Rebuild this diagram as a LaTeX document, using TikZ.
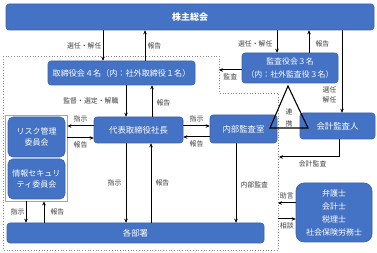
\documentclass[tikz,border=0pt]{standalone}
\usepackage{fontspec}
\setmainfont{Noto Sans CJK JP}
\usetikzlibrary{arrows.meta}
\definecolor{boxblue}{HTML}{4472C4}
\definecolor{boxedge}{HTML}{3A62AC}
\definecolor{lblgray}{HTML}{404040}
\definecolor{dotgray}{HTML}{8C8C8C}
\definecolor{grpgray}{HTML}{A6A6A6}
\begin{document}
\begin{tikzpicture}[x=1pt,y=-1pt,
  box/.style={draw=boxedge, line width=.6pt, fill=boxblue, rounded corners=3pt, text=white, align=center, inner sep=0pt, font=\fontsize{8.4}{13}\selectfont},
  lbl/.style={text=lblgray, font=\fontsize{6.9}{10}\selectfont, inner sep=1pt, align=center},
  arr/.style={draw=black, line width=1pt, -{Stealth[length=4pt,width=3.6pt]}},
  grpbox/.style={draw=grpgray, line width=.8pt, fill=white, inner sep=0pt},
  boundary/.style={draw=dotgray, dotted, line width=.7pt},
  tri/.style={draw=black, line width=1.1pt, line join=miter}
]
\useasboundingbox (0,0) rectangle (377,253);
\fill[white] (0,0) rectangle (377,253);

% dotted boundary of the company organisation
\draw[boundary] (3,56) -- (219,56) -- (219,93) -- (278,93) -- (278,250) -- (3,250) -- cycle;

% group of committees
\node[grpbox, minimum width=62pt, minimum height=86pt] (grp) at (36,158) {};

% boxes
\node[box, minimum width=368pt, minimum height=26pt, font=\fontsize{9}{13}\selectfont\bfseries] (sh) at (190,17) {株主総会};
\node[box, minimum width=147pt, minimum height=24pt, font=\fontsize{8.1}{13}\selectfont] (tor) at (121.5,73) {取締役会４名（内：社外取締役１名）};
\node[box, minimum width=96pt, minimum height=30pt, font=\fontsize{7.9}{13}\selectfont] (kan) at (290,68) {監査役会３名\\（内：社外監査役３名）};
\node[box, minimum width=89pt, minimum height=26pt] (pres) at (138.5,130) {代表取締役社長};
\node[box, minimum width=57pt, minimum height=40pt, rounded corners=5pt, font=\fontsize{8}{11.5}\selectfont] (risk) at (36.5,137) {リスク管理\\委員会};
\node[box, minimum width=57pt, minimum height=40pt, rounded corners=5pt, font=\fontsize{8}{11.5}\selectfont] (info) at (36.5,179) {情報セキュリ\\ティ委員会};
\node[box, minimum width=67pt, minimum height=28pt] (naibu) at (243.5,129) {内部監査室};
\node[box, minimum width=75pt, minimum height=26pt] (kaikei) at (337.5,126) {会計監査人};
\node[box, minimum width=257pt, minimum height=20pt] (kakubu) at (135.5,233) {各部署};
\node[box, minimum width=76pt, minimum height=59pt, rounded corners=8pt, font=\fontsize{8}{13}\selectfont] (bengo) at (334,212.5) {弁護士\\会計士\\税理士\\社会保険労務士};

% cooperation triangle
\draw[tri] (288,86) -- (270,128) -- (308,128) -- cycle;
\node[lbl, font=\fontsize{6.9}{12}\selectfont] (ren) at (289,118) {連\\携};

% helper coordinates
\coordinate (c1) at (103,0);
\coordinate (c2) at (145,0);
\coordinate (c3) at (277,0);
\coordinate (c4) at (309,0);
\coordinate (c5) at (342,0);
\coordinate (c6) at (126,0);
\coordinate (c7) at (152,0);
\coordinate (c8) at (151,0);
\coordinate (c9) at (236,0);
\coordinate (c10) at (339,0);
\coordinate (c11) at (26,0);
\coordinate (c12) at (44,0);
\coordinate (r1) at (0,126);
\coordinate (r2) at (0,138);
\coordinate (r3) at (0,137);
\coordinate (bA) at (219,70);
\coordinate (bB) at (279,157);
\coordinate (bC) at (278,203);
\coordinate (bD) at (278,219);

% connectors
\draw[arr] (sh.south -| c1) -- node[lbl, left=0pt] (l1) {選任・解任} (tor.north -| c1);
\draw[arr] (tor.north -| c2) -- node[lbl, right=1pt] (l2) {報告} (sh.south -| c2);
\draw[arr] (sh.south -| c3) -- node[lbl, left=3pt, pos=.6] (l3) {選任・解任} (kan.north -| c3);
\draw[arr] (kan.north -| c4) -- node[lbl, right=5pt, pos=.4] (l4) {報告} (sh.south -| c4);
\draw[arr] (sh.south -| c5) -- node[lbl, left=4pt, pos=.78] (l5) {選任\\解任} (kaikei.north -| c5);
\draw[arr] (kan.west |- bA) -- node[lbl, below=2pt] (l6) {監査} (bA);
\draw[arr] (tor.south -| c6) -- node[lbl, left=6pt] (l7) {監督・選定・解職} (pres.north -| c6);
\draw[arr] (pres.north -| c7) -- node[lbl, right=3pt, pos=.44] (l8) {報告} (tor.south -| c7);
\draw[arr] (pres.west |- r1) -- node[lbl, above=2pt] (l9) {指示} (grp.east |- r1);
\draw[arr] (grp.east |- r2) -- node[lbl, below=2pt] (l10) {報告} (pres.west |- r2);
\draw[arr] (pres.east |- r1) -- node[lbl, above=2pt] (l11) {指示} (naibu.west |- r1);
\draw[arr] (naibu.west |- r3) -- node[lbl, below=2pt] (l12) {報告} (pres.east |- r3);
\draw[arr] (pres.south -| c6) -- node[lbl, left=3pt] (l13) {指示} (kakubu.north -| c6);
\draw[arr] (kakubu.north -| c8) -- node[lbl, right=3pt] (l14) {報告} (pres.south -| c8);
\draw[arr] (naibu.south -| c9) -- node[lbl, right=3pt, pos=.53] (l15) {内部監査} (kakubu.north -| c9);
\draw[arr] (kaikei.south -| c10) |- node[lbl, below=2pt, pos=.72] (l16) {会計監査} (bB);
\draw[arr] (bengo.west |- bC) -- node[lbl, above=2pt] (l17) {助言} (bC);
\draw[arr] (bD) -- node[lbl, below=2pt] (l18) {相談} (bengo.west |- bD);
\draw[arr] (grp.south -| c11) -- node[lbl, left=0pt] (l19) {指示} (kakubu.north -| c11);
\draw[arr] (kakubu.north -| c12) -- node[lbl, right=5pt] (l20) {報告} (grp.south -| c12);
\end{tikzpicture}
\end{document}
